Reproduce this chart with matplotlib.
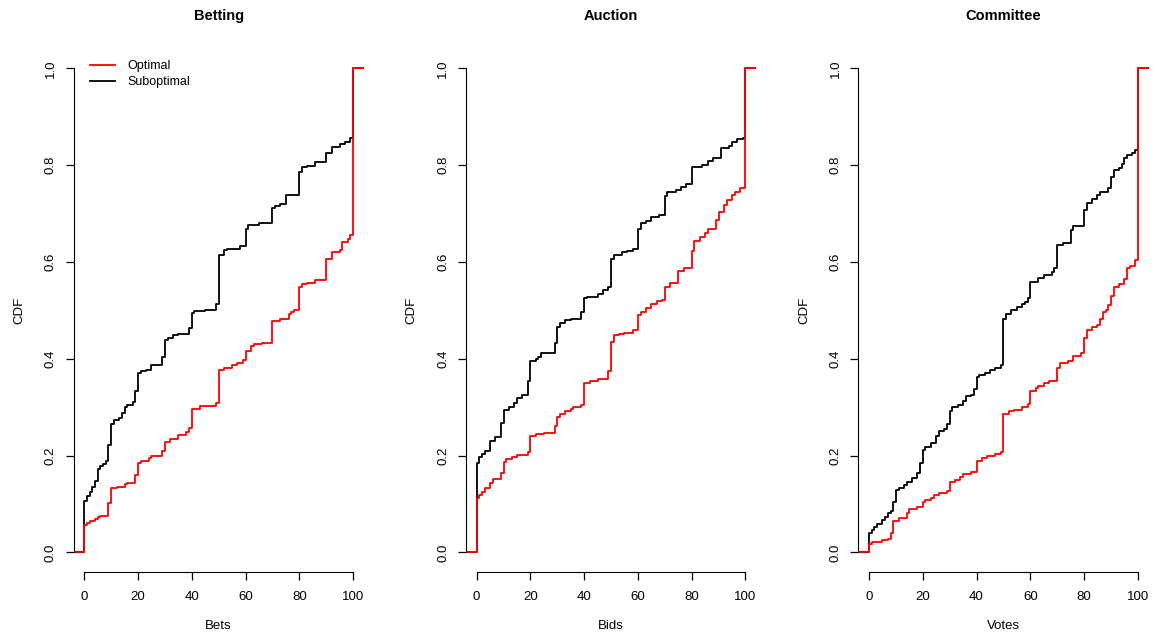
import numpy as np
import matplotlib
matplotlib.use("Agg")
import matplotlib.pyplot as plt

plt.rcParams['font.family'] = ['Liberation Sans', 'DejaVu Sans']

titles = ["Betting", "Auction", "Committee"]
xlabels = ["Bets", "Bids", "Votes"]

# step points of each empirical CDF: value -> cumulative share
bet_opt_x = [0, 1, 2, 4, 5, 6, 9, 10, 12, 15, 16, 19, 20, 21, 24, 25, 29, 30, 32, 35, 38, 39,
             40, 43, 49, 50, 52, 55, 57, 59, 60, 62, 63, 66, 70, 73, 76, 77, 78, 80, 81, 83,
             86, 90, 92, 95, 96, 98, 99, 100]
bet_opt_y = [0.056, 0.061, 0.064, 0.068, 0.073, 0.076, 0.102, 0.132, 0.135, 0.142, 0.144, 0.160,
             0.185, 0.189, 0.195, 0.200, 0.209, 0.228, 0.235, 0.242, 0.249, 0.257, 0.297, 0.302,
             0.309, 0.377, 0.381, 0.388, 0.392, 0.397, 0.416, 0.426, 0.430, 0.432, 0.478, 0.483,
             0.492, 0.496, 0.500, 0.548, 0.555, 0.557, 0.562, 0.605, 0.620, 0.625, 0.641, 0.648,
             0.655, 1.0]
bet_sub_x = [0, 1, 2, 3, 4, 5, 6, 7, 8, 9, 10, 11, 13, 14, 15, 16, 18, 19, 20, 21, 23, 25, 29,
             30, 31, 33, 35, 39, 40, 41, 45, 49, 50, 52, 53, 58, 60, 61, 63, 65, 70, 71, 73, 75,
             80, 81, 83, 86, 90, 92, 95, 97, 99, 100]
bet_sub_y = [0.107, 0.116, 0.125, 0.135, 0.147, 0.173, 0.178, 0.182, 0.188, 0.222, 0.266, 0.274,
             0.278, 0.287, 0.300, 0.304, 0.311, 0.333, 0.370, 0.375, 0.377, 0.388, 0.404, 0.439,
             0.443, 0.448, 0.452, 0.463, 0.494, 0.498, 0.501, 0.514, 0.614, 0.624, 0.627, 0.632,
             0.669, 0.676, 0.677, 0.681, 0.712, 0.716, 0.720, 0.738, 0.786, 0.796, 0.798, 0.806,
             0.825, 0.837, 0.843, 0.848, 0.855, 1.0]

auc_opt_x = [0, 1, 2, 3, 5, 6, 9, 10, 11, 13, 15, 19, 20, 22, 25, 29, 30, 31, 33, 35, 36, 39,
             40, 42, 45, 49, 50, 51, 53, 55, 58, 60, 61, 63, 65, 67, 69, 70, 72, 75, 77, 80, 81,
             83, 85, 86, 89, 90, 92, 93, 95, 96, 98, 100]
auc_opt_y = [0.112, 0.118, 0.125, 0.132, 0.143, 0.151, 0.163, 0.187, 0.193, 0.198, 0.202, 0.208,
             0.240, 0.244, 0.247, 0.260, 0.280, 0.285, 0.291, 0.297, 0.301, 0.304, 0.349, 0.354,
             0.359, 0.375, 0.435, 0.449, 0.452, 0.454, 0.459, 0.490, 0.497, 0.504, 0.513, 0.519,
             0.521, 0.549, 0.557, 0.581, 0.588, 0.623, 0.643, 0.652, 0.659, 0.667, 0.687, 0.704,
             0.718, 0.728, 0.738, 0.745, 0.752, 1.0]
auc_sub_x = [0, 1, 2, 3, 5, 7, 9, 10, 12, 14, 15, 17, 19, 20, 22, 23, 24, 29, 30, 31, 33, 35,
             39, 40, 41, 45, 47, 49, 50, 51, 54, 56, 58, 60, 61, 63, 65, 68, 70, 71, 74, 76, 78,
             80, 84, 86, 88, 91, 94, 95, 97, 99, 100]
auc_sub_y = [0.184, 0.198, 0.203, 0.209, 0.230, 0.238, 0.268, 0.294, 0.300, 0.308, 0.319, 0.325,
             0.354, 0.395, 0.399, 0.404, 0.411, 0.433, 0.466, 0.473, 0.480, 0.483, 0.497, 0.525,
             0.528, 0.534, 0.542, 0.549, 0.607, 0.614, 0.620, 0.623, 0.626, 0.669, 0.681, 0.684,
             0.693, 0.697, 0.736, 0.744, 0.749, 0.755, 0.762, 0.797, 0.800, 0.809, 0.814, 0.835,
             0.839, 0.848, 0.853, 0.855, 1.0]

com_opt_x = [0, 1, 5, 7, 8, 9, 11, 14, 15, 18, 20, 21, 23, 24, 26, 29, 30, 32, 34, 35, 38, 40,
             42, 44, 47, 49, 50, 52, 54, 57, 59, 60, 62, 63, 65, 67, 70, 71, 74, 76, 79, 80, 81,
             83, 85, 86, 87, 88, 89, 90, 91, 93, 95, 96, 97, 99, 100]
com_opt_y = [0.017, 0.021, 0.025, 0.028, 0.039, 0.065, 0.070, 0.081, 0.089, 0.093, 0.103, 0.108,
             0.112, 0.118, 0.122, 0.127, 0.146, 0.149, 0.156, 0.162, 0.167, 0.189, 0.194, 0.199,
             0.203, 0.208, 0.285, 0.291, 0.295, 0.300, 0.306, 0.334, 0.339, 0.344, 0.349, 0.355,
             0.380, 0.392, 0.396, 0.406, 0.412, 0.442, 0.459, 0.465, 0.470, 0.483, 0.497, 0.500,
             0.510, 0.530, 0.549, 0.554, 0.564, 0.588, 0.592, 0.604, 1.0]
com_sub_x = [0, 1, 2, 3, 5, 6, 7, 8, 9, 10, 11, 13, 14, 16, 18, 19, 20, 21, 23, 25, 26, 28, 29,
             30, 31, 33, 35, 36, 38, 39, 40, 41, 43, 45, 47, 49, 50, 51, 53, 55, 57, 58, 59, 60,
             63, 65, 68, 69, 70, 72, 75, 76, 80, 81, 83, 85, 86, 89, 90, 91, 93, 94, 95, 96, 98,
             99, 100]
com_sub_y = [0.040, 0.047, 0.053, 0.058, 0.067, 0.074, 0.081, 0.085, 0.105, 0.129, 0.133, 0.139,
             0.146, 0.154, 0.163, 0.185, 0.211, 0.218, 0.225, 0.240, 0.251, 0.254, 0.266, 0.293,
             0.300, 0.304, 0.313, 0.322, 0.326, 0.337, 0.363, 0.366, 0.371, 0.377, 0.380, 0.387,
             0.483, 0.492, 0.501, 0.506, 0.513, 0.518, 0.526, 0.559, 0.566, 0.573, 0.580, 0.587,
             0.635, 0.640, 0.666, 0.674, 0.707, 0.722, 0.729, 0.738, 0.745, 0.753, 0.775, 0.790,
             0.795, 0.802, 0.814, 0.821, 0.824, 0.831, 1.0]

panels = [
    (bet_opt_x, bet_opt_y, bet_sub_x, bet_sub_y),
    (auc_opt_x, auc_opt_y, auc_sub_x, auc_sub_y),
    (com_opt_x, com_opt_y, com_sub_x, com_sub_y),
]


def draw_ecdf(ax, xs, ys, color):
    x = [-10] + list(xs) + [110]
    y = [0.0] + list(ys) + [ys[-1]]
    ax.step(x, y, where='post', color=color, lw=1.3)


fig = plt.figure(figsize=(11.53, 6.38), dpi=100)
lefts = [0.0638, 0.4041, 0.7444]

for i, (ox, oy, sx, sy) in enumerate(panels):
    ax = fig.add_axes([lefts[i], 0.1039, 0.2517, 0.8194])
    draw_ecdf(ax, sx, sy, 'black')
    draw_ecdf(ax, ox, oy, '#FF0000')

    ax.set_xlim(-4, 104)
    ax.set_ylim(-0.04, 1.04)
    ax.set_xticks(np.arange(0, 101, 20))
    ax.set_yticks(np.arange(0, 1.01, 0.2))
    ax.set_yticklabels([f"{v:.1f}" for v in np.arange(0, 1.01, 0.2)],
                       rotation=90, va='center')
    for side in ['top', 'right']:
        ax.spines[side].set_visible(False)
    ax.spines['left'].set_bounds(0, 1)
    ax.spines['bottom'].set_bounds(0, 100)
    ax.tick_params(direction='out', length=6, width=0.9, labelsize=9.5, pad=8)
    ax.tick_params(axis='y', pad=6)

    ax.set_title(titles[i], fontsize=10.5, fontweight='bold', pad=21)
    ax.set_xlabel(xlabels[i], fontsize=9.5, labelpad=12)
    ax.set_ylabel("CDF", fontsize=9.5, labelpad=14)

    if i == 0:
        ax.plot([], [], color='#FF0000', lw=1.3, label='Optimal')
        ax.plot([], [], color='black', lw=1.3, label='Suboptimal')
        handles, labels = ax.get_legend_handles_labels()
        ax.legend(handles[-2:], labels[-2:], loc='upper left', bbox_to_anchor=(0.04, 0.988),
                  frameon=False, fontsize=9, handlelength=2.0, handletextpad=1.0,
                  labelspacing=0.3, borderaxespad=0)

fig.savefig("out.png", dpi=100)
